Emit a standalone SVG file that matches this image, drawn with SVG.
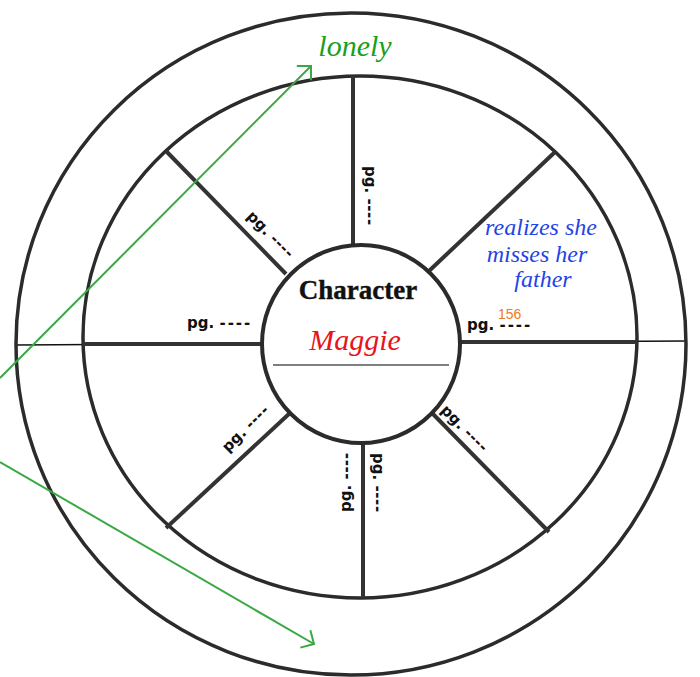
<svg xmlns="http://www.w3.org/2000/svg" width="700" height="677" viewBox="0 0 700 677">
  <style>
    .ring { fill: none; stroke: #2b2b2b; stroke-width: 3.5; }
    .spoke { stroke: #333; stroke-width: 4; stroke-linecap: butt; }
    .thin { stroke: #111; stroke-width: 1.5; }
    .pg { font-family: "DejaVu Sans", "Liberation Sans", sans-serif; font-size: 15px; font-weight: bold; fill: #111; }
    .dash { letter-spacing: 0.6px; }
    .dashw { letter-spacing: 2px; }
    .script { font-family: "Liberation Serif", serif; font-style: italic; }
    .green { stroke: #3aa845; stroke-width: 2; fill: none; }
  </style>
  <defs>
    <marker id="arrow" viewBox="-13 -13 15 26" markerWidth="15" markerHeight="26" refX="0" refY="0" markerUnits="userSpaceOnUse" orient="auto">
      <path d="M-10,-10 L0,0 L-10,10" fill="none" stroke="#3aa845" stroke-width="2"/>
    </marker>
  </defs>
  <rect width="700" height="677" fill="#ffffff"/>

  <g id="wheel">
    <line class="thin" x1="16" y1="345" x2="686" y2="341"/>
    <ellipse class="ring" cx="351" cy="344" rx="335" ry="331"/>
    <ellipse class="ring" cx="360" cy="337" rx="277" ry="261"/>
  </g>

  <g id="spokes">
    <line class="spoke" x1="353" y1="76" x2="353" y2="246"/>
    <line class="spoke" x1="363" y1="442" x2="363" y2="598"/>
    <line class="spoke" x1="83" y1="344" x2="263" y2="344"/>
    <line class="spoke" x1="459" y1="342" x2="637" y2="342"/>
    <line class="spoke" x1="166" y1="151" x2="286" y2="274"/>
    <line class="spoke" x1="555" y1="152" x2="429" y2="271"/>
    <line class="spoke" x1="166" y1="528" x2="290" y2="413"/>
    <line class="spoke" x1="549" y1="532" x2="432" y2="413"/>
  </g>

  <g id="center">
    <circle cx="361" cy="344" r="99" fill="#fff" stroke="#2b2b2b" stroke-width="4"/>
    <text x="358" y="299" text-anchor="middle" font-family="Liberation Serif, serif" font-weight="bold" font-size="27" fill="#111" stroke="#111" stroke-width="0.4">Character</text>
    <text class="script" x="355" y="350" text-anchor="middle" font-size="30" fill="#e8131b">Maggie</text>
    <line x1="273" y1="365" x2="449" y2="365" stroke="#555" stroke-width="1.5"/>
  </g>

  <g id="label-top"><text class="pg" transform="translate(365,166) rotate(90)">pg. <tspan class="dash">----</tspan></text></g>
  <g id="label-upper-left"><text class="pg" transform="translate(246,217) rotate(45)">pg. <tspan class="dash">----</tspan></text></g>
  <g id="label-left"><text class="pg" x="187" y="328">pg. <tspan class="dashw">----</tspan></text></g>
  <g id="label-right">
    <text class="pg" x="467" y="330">pg. <tspan class="dashw">----</tspan></text>
    <text x="498" y="319" font-family="Liberation Sans, sans-serif" font-size="14" fill="#f07a1a">156</text>
  </g>
  <g id="label-lower-left"><text class="pg" transform="translate(228,453) rotate(-45)">pg. <tspan class="dash">----</tspan></text></g>
  <g id="label-bottom-left"><text class="pg" transform="translate(351,512) rotate(-90)">pg. <tspan class="dash">----</tspan></text></g>
  <g id="label-bottom-right"><text class="pg" transform="translate(373,453) rotate(90)">pg. <tspan class="dash">----</tspan></text></g>
  <g id="label-lower-right"><text class="pg" transform="translate(440,411) rotate(45)">pg. <tspan class="dash">----</tspan></text></g>

  <g id="trait-note">
    <text class="script" font-size="24" fill="#1f44e6" text-anchor="middle">
      <tspan x="544" y="235">realizes she</tspan>
      <tspan x="540" y="262">misses her</tspan>
      <tspan x="543" y="287">father</tspan>
    </text>
  </g>

  <g id="trait-lonely">
    <text class="script" x="355" y="56" text-anchor="middle" font-size="30" fill="#1aa01a">lonely</text>
  </g>

  <g id="connectors">
    <line class="green" x1="0" y1="378" x2="311" y2="66" marker-end="url(#arrow)"/>
    <line class="green" x1="0" y1="462" x2="314" y2="644" marker-end="url(#arrow)"/>
  </g>
</svg>
